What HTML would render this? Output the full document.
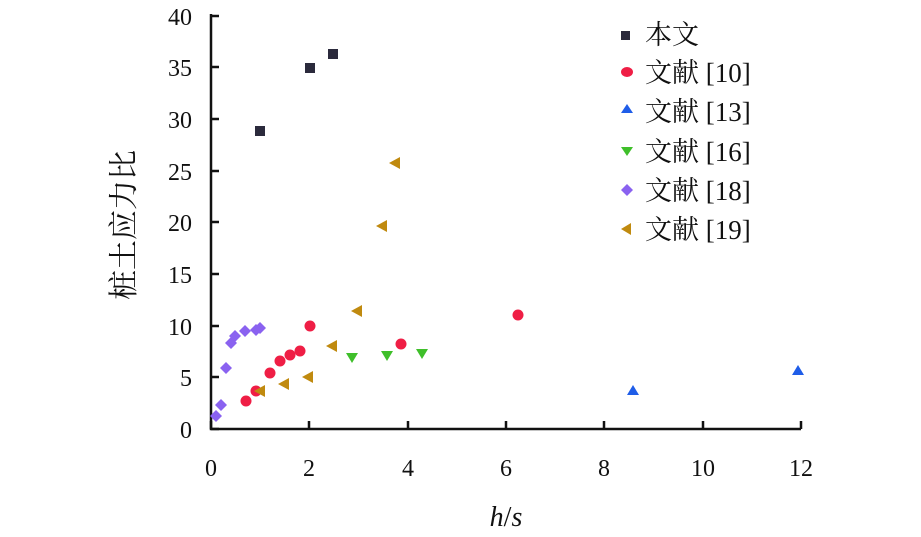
<!DOCTYPE html>
<html><head><meta charset="utf-8"><style>body{margin:0;background:#fff}svg{display:block}text{font-family:"Liberation Serif","Noto Serif CJK SC",serif;fill:#111}</style></head><body>
<svg width="921" height="537" viewBox="0 0 921 537">
<g stroke="#111" stroke-width="2.5" fill="none">
<path d="M211,14V429H801"/>
<path d="M211,429h8M211,377h8M211,326h8M211,274h8M211,222h8M211,171h8M211,119h8M211,67h8M211,16h8"/>
<path d="M211,429v-8M309,429v-8M408,429v-8M506,429v-8M604,429v-8M703,429v-8M801,429v-8"/>
</g>
<g font-size="24" text-anchor="end">
<text x="192" y="438">0</text><text x="192" y="386">5</text><text x="192" y="335">10</text><text x="192" y="283">15</text><text x="192" y="231">20</text><text x="192" y="180">25</text><text x="192" y="128">30</text><text x="192" y="76">35</text><text x="192" y="25">40</text>
</g>
<g font-size="24" text-anchor="middle">
<text x="211" y="476">0</text><text x="309" y="476">2</text><text x="408" y="476">4</text><text x="506" y="476">6</text><text x="604" y="476">8</text><text x="703" y="476">10</text><text x="801" y="476">12</text>
<text x="506" y="526" font-size="28"><tspan font-style="italic">h</tspan>/<tspan font-style="italic">s</tspan></text>
</g>
<text transform="translate(134,225) rotate(-90)" font-size="30" text-anchor="middle">桩土应力比</text>
<g fill="#2b2a3c"><rect x="255" y="126" width="10" height="10"/><rect x="305" y="63" width="10" height="10"/><rect x="328" y="49" width="10" height="10"/><rect x="621" y="31" width="9" height="9"/></g>
<g fill="#ef1e45"><circle cx="246" cy="401" r="5.5"/><circle cx="256" cy="391" r="5.5"/><circle cx="270" cy="373" r="5.5"/><circle cx="280" cy="361" r="5.5"/><circle cx="290" cy="355" r="5.5"/><circle cx="300" cy="351" r="5.5"/><circle cx="310" cy="326" r="5.5"/><circle cx="401" cy="344" r="5.5"/><circle cx="518" cy="315" r="5.5"/><ellipse cx="627" cy="72" rx="6" ry="5"/></g>
<g fill="#1f5de8"><path d="M633,385l6,10h-12z"/><path d="M798,365l6,10h-12z"/><path d="M627,104l6,9h-12z"/></g>
<g fill="#3fbf2a"><path d="M346,353h12l-6,10z"/><path d="M381,351h12l-6,10z"/><path d="M416,349h12l-6,10z"/><path d="M621,147h12l-6,9z"/></g>
<g fill="#8a62f0"><path d="M216,410l6,6l-6,6l-6,-6z"/><path d="M221,399l6,6l-6,6l-6,-6z"/><path d="M226,362l6,6l-6,6l-6,-6z"/><path d="M231,337l6,6l-6,6l-6,-6z"/><path d="M235,330l6,6l-6,6l-6,-6z"/><path d="M245,325l6,6l-6,6l-6,-6z"/><path d="M256,324l6,6l-6,6l-6,-6z"/><path d="M260,322l6,6l-6,6l-6,-6z"/><path d="M627,184l6,6l-6,6l-6,-6z"/></g>
<g fill="#c08a0f"><path d="M254,391l11,-6v12z"/><path d="M278,384l11,-6v12z"/><path d="M302,377l11,-6v12z"/><path d="M326,346l11,-6v12z"/><path d="M351,311l11,-6v12z"/><path d="M376,226l11,-6v12z"/><path d="M389,163l11,-6v12z"/><path d="M621,229l10,-6v12z"/></g>
<g font-size="27">
<text x="645" y="44">本文</text><text x="645" y="82">文献 [10]</text><text x="645" y="121">文献 [13]</text><text x="645" y="161">文献 [16]</text><text x="645" y="200">文献 [18]</text><text x="645" y="239">文献 [19]</text>
</g>
</svg>
</body></html>
